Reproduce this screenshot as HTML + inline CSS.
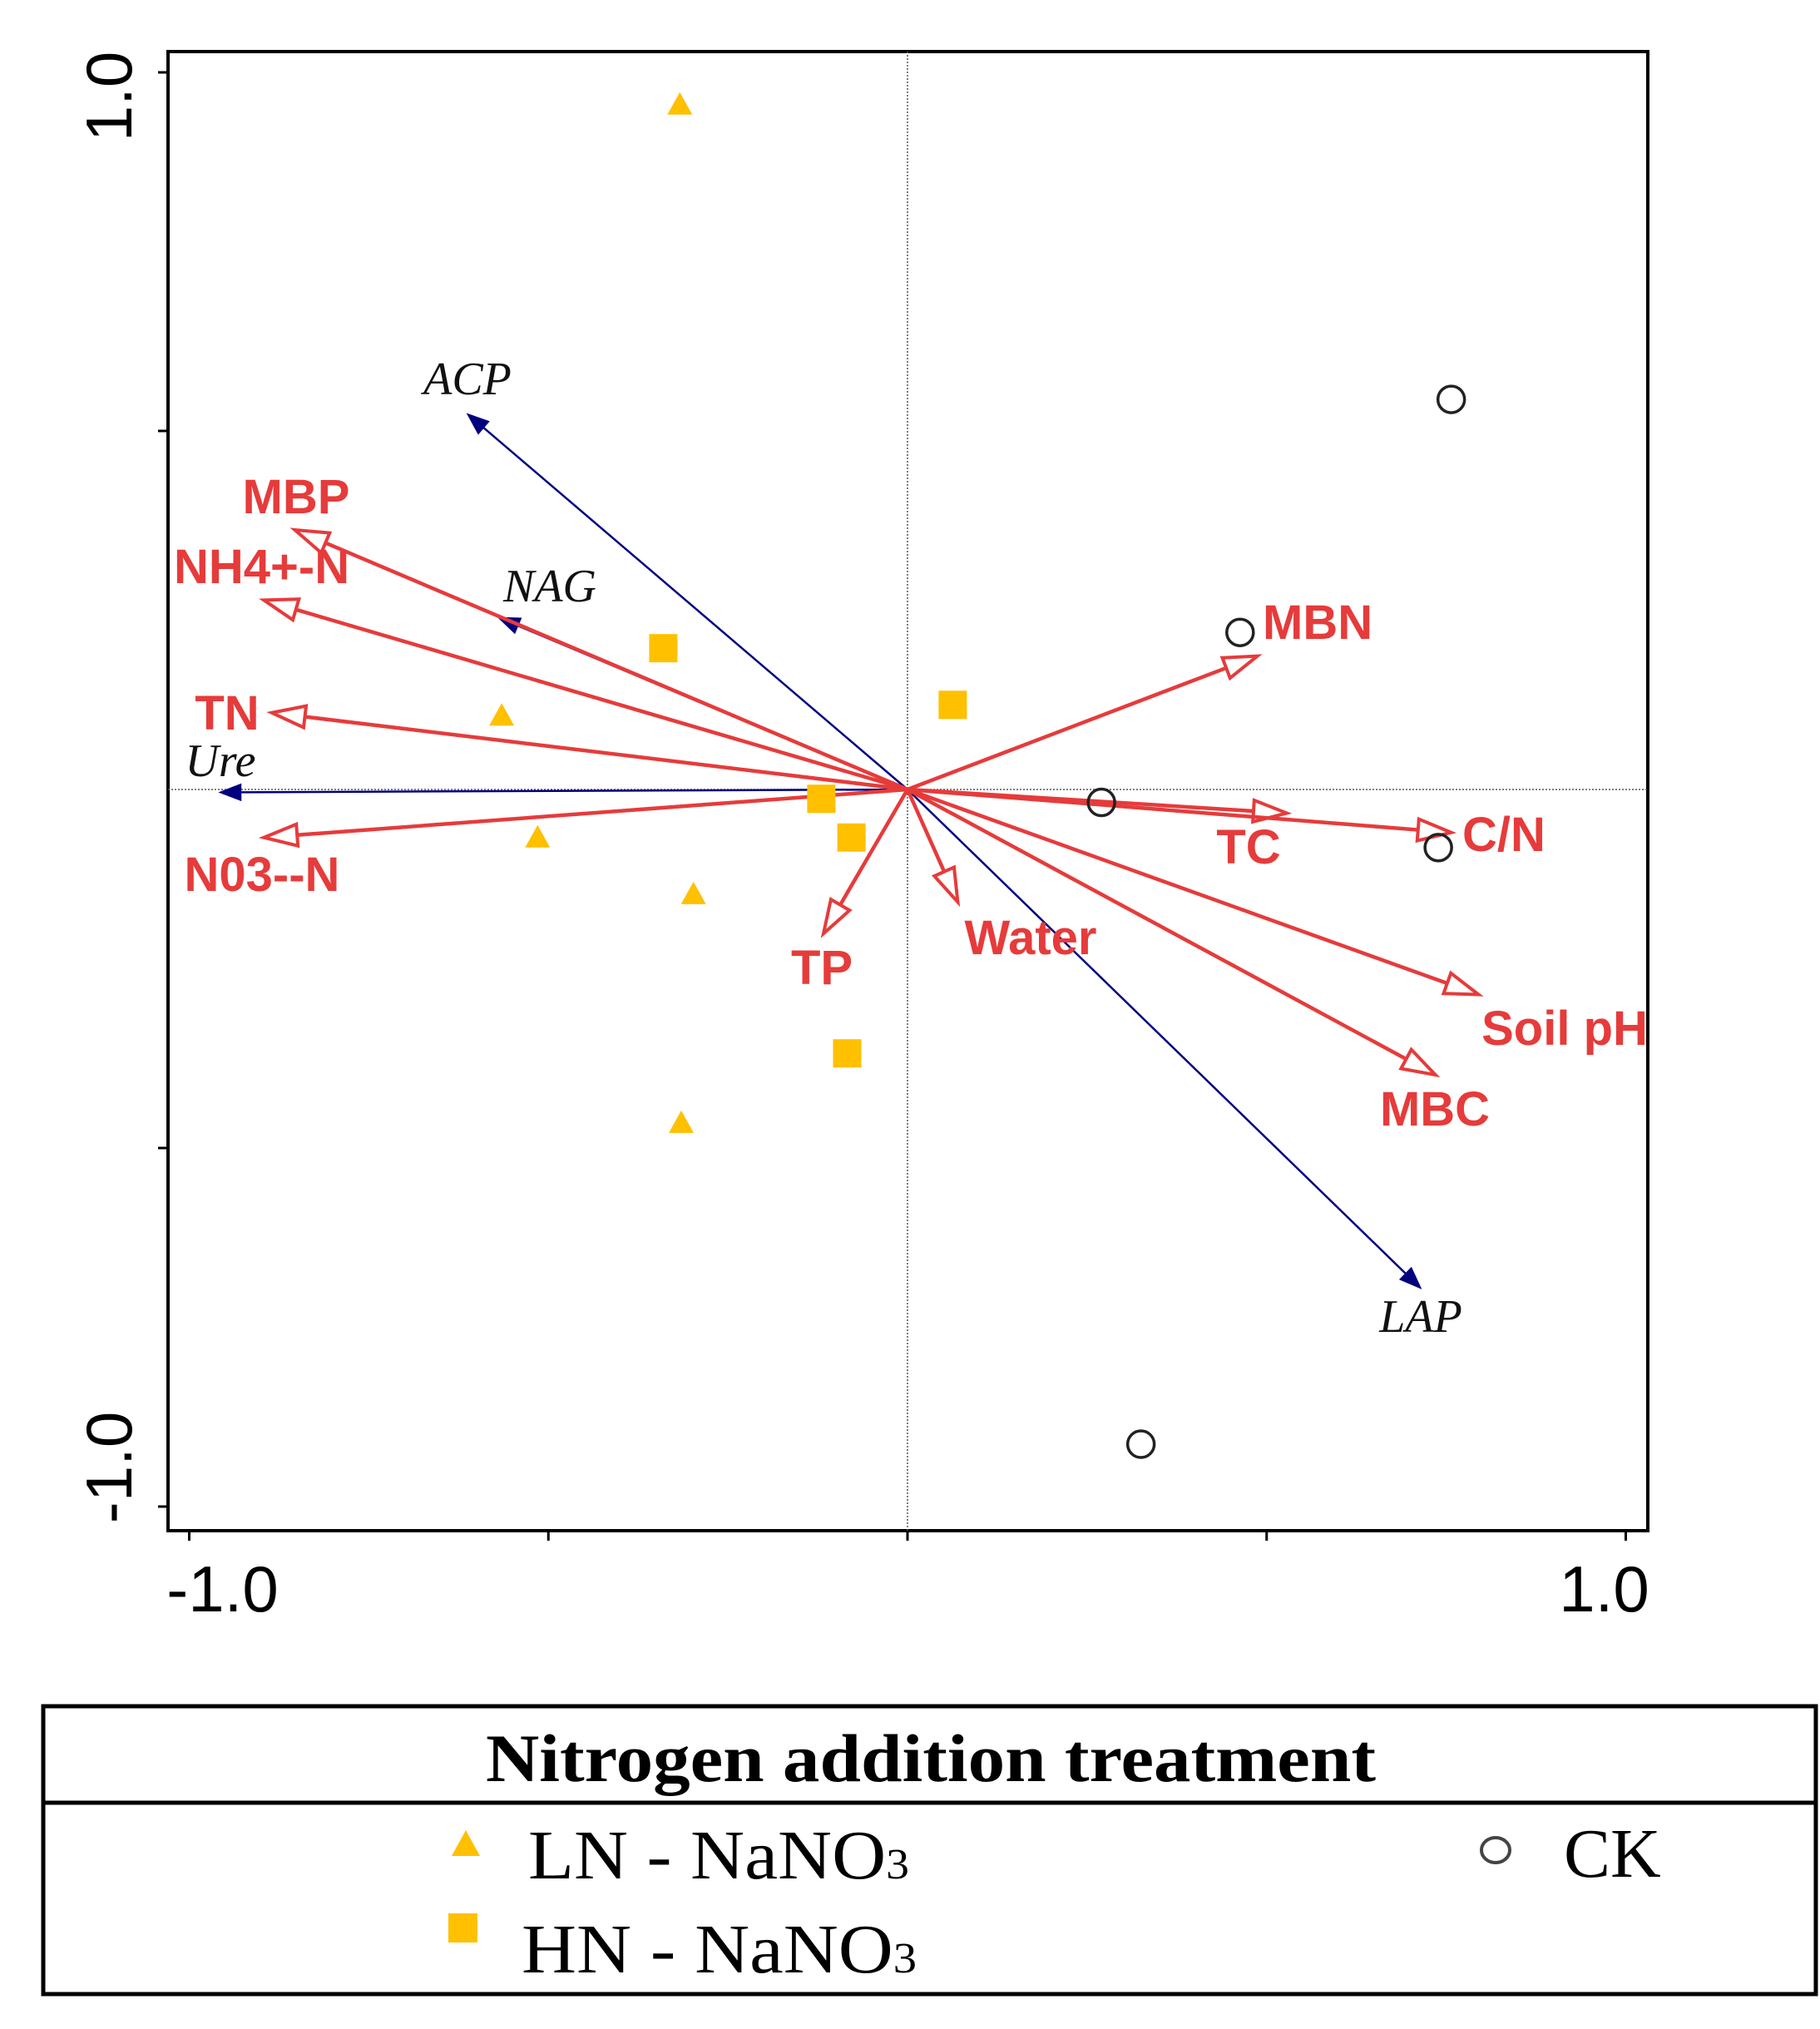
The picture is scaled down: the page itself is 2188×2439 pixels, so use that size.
<!DOCTYPE html>
<html><head><meta charset="utf-8"><title>RDA biplot</title>
<style>html,body{margin:0;padding:0;background:#fff}svg{display:block}</style></head>
<body>
<svg id="chart" width="2188" height="2439" viewBox="0 0 2188 2439" xmlns="http://www.w3.org/2000/svg">
<rect x="0" y="0" width="2188" height="2439" fill="#fff"/>
<g id="plot"></g>
<g id="legend">
 <rect x="52" y="2051" width="2131" height="346" fill="none" stroke="#000" stroke-width="5"/>
 <line x1="52" y1="2167" x2="2183" y2="2167" stroke="#000" stroke-width="5"/>
 <text x="1119" y="2141" text-anchor="middle" font-family="Liberation Serif, serif" font-weight="bold" font-size="82" textLength="1070" lengthAdjust="spacingAndGlyphs">Nitrogen addition treatment</text>
 <polygon points="560,2200 543,2231 577,2231" fill="#FFC000"/>
 <text x="635" y="2258" font-family="Liberation Serif, serif" font-size="84" textLength="458" lengthAdjust="spacingAndGlyphs">LN - NaNO<tspan font-size="52">3</tspan></text>
 <rect x="539" y="2300" width="35" height="35" fill="#FFC000"/>
 <text x="627" y="2371" font-family="Liberation Serif, serif" font-size="84" textLength="475" lengthAdjust="spacingAndGlyphs">HN - NaNO<tspan font-size="52">3</tspan></text>
 <ellipse cx="1798" cy="2224" rx="17" ry="15" fill="none" stroke="#444" stroke-width="4"/>
 <text x="1880" y="2256" font-family="Liberation Serif, serif" font-size="84">CK</text>
</g>
</svg>
<script>
// data
const lnX = [-0.317, -0.565, -0.515, -0.298, -0.315];
const lnY = [0.955, 0.103, -0.067, -0.146, -0.465];
const hnX = [-0.340, 0.063, -0.120, -0.078, -0.084];
const hnY = [0.197, 0.118, -0.013, -0.067, -0.368];
const ckX = [0.757, 0.463, 0.270, 0.739, 0.325];
const ckY = [0.544, 0.219, -0.018, -0.081, -0.913];
const envNames = ["MBP", "NH4+-N", "TN", "N03--N", "TP", "Water", "MBN", "TC", "C/N", "Soil pH", "MBC"];
const envX = [-0.853, -0.896, -0.885, -0.896, -0.117, 0.070, 0.487, 0.528, 0.757, 0.795, 0.735];
const envY = [0.362, 0.264, 0.107, -0.067, -0.201, -0.157, 0.186, -0.033, -0.060, -0.286, -0.398];
const enzNames = ["ACP", "NAG", "Ure", "LAP"];
const enzX = [-0.613, -0.570, -0.958, 0.715];
const enzY = [0.524, 0.240, -0.004, -0.696];
const xTicks = [-1, -0.5, 0, 0.5, 1];
const yTicks = [1, 0.5, -0.5, -1];
const tickLabels = ["-1.0", "1.0"];

const X0 = 1091, KX = 863.5, Y0 = 949, KY = 862;
const sx = v => X0 + v * KX;
const sy = v => Y0 - v * KY;
const NS = "http://www.w3.org/2000/svg";
const plot = document.getElementById("plot");
function mk(tag, attrs, parent) {
  const e = document.createElementNS(NS, tag);
  for (const k in attrs) e.setAttribute(k, attrs[k]);
  (parent || plot).appendChild(e);
  return e;
}
let el = mk("rect", {x: 202, y: 62, width: 1779, height: 1778, fill: "none", stroke: "#000", "stroke-width": 4});


el = mk("line", {x1: sx(0), y1: 62, x2: sx(0), y2: 1840, stroke: "#555", "stroke-width": 1.5, "stroke-dasharray": "2,2"});


el = mk("line", {x1: 202, y1: sy(0), x2: 1981, y2: sy(0), stroke: "#555", "stroke-width": 1.5, "stroke-dasharray": "2,2"});


xTicks.forEach(t => {
  const e = mk("line", {x1: sx(t), y1: 1840, x2: sx(t), y2: 1852, stroke: "#000", "stroke-width": 3});
  
  
});
yTicks.forEach(t => {
  const e = mk("line", {x1: 190, y1: sy(t), x2: 202, y2: sy(t), stroke: "#000", "stroke-width": 3});
  
  
});
el = mk("text", {x: sx(-1) + 40, y: 1937, "text-anchor": "middle", "font-family": "Liberation Sans, sans-serif", "font-size": 78});
el.textContent = tickLabels[0];


el = mk("text", {x: sx(1) - 26, y: 1937, "text-anchor": "middle", "font-family": "Liberation Sans, sans-serif", "font-size": 78});
el.textContent = tickLabels[1];


el = mk("text", {x: 0, y: 0, "text-anchor": "middle", "font-family": "Liberation Sans, sans-serif", "font-size": 78, transform: "translate(158," + (sy(1) + 29) + ") rotate(-90)"});
el.textContent = tickLabels[1];


el = mk("text", {x: 0, y: 0, "text-anchor": "middle", "font-family": "Liberation Sans, sans-serif", "font-size": 78, transform: "translate(158," + (sy(-1) - 47) + ") rotate(-90)"});
el.textContent = tickLabels[0];



function arrow(x, y, color, w, open, len, hw) {
  const x1 = sx(0), y1 = sy(0), x2 = sx(x), y2 = sy(y);
  const dx = x2 - x1, dy = y2 - y1, L = Math.hypot(dx, dy), ux = dx / L, uy = dy / L;
  const bx = x2 - ux * len, by = y2 - uy * len;
  const g = mk("g", {});
  mk("line", {x1: x1, y1: y1, x2: bx, y2: by, stroke: color, "stroke-width": w}, g);
  mk("polygon", {points: x2 + "," + y2 + " " + (bx - uy * hw) + "," + (by + ux * hw) + " " + (bx + uy * hw) + "," + (by - ux * hw),
    fill: open ? "#fff" : color, stroke: color, "stroke-width": open ? 4 : 1, "stroke-linejoin": "miter"}, g);
  return g;
}
const envLab = [[356,617,"middle"],[209,701,"start"],[273,877,"middle"],[315,1071,"middle"],[988,1183,"middle"],[1239,1147,"middle"],[1518,768,"start"],[1501,1038,"middle"],[1808,1023,"middle"],[1881,1256,"middle"],[1725,1353,"middle"]];
const enzLab = [[562,474],[661,723],[265,933],[1708,1601]];
enzNames.forEach((n, i) => {
  const g = arrow(enzX[i], enzY[i], "#00007F", 2.5, false, 26, 10);
  
  
});
envNames.forEach((n, i) => {
  const g = arrow(envX[i], envY[i], "#E63B3B", 4.5, true, 40, 13);
  
  
});
envNames.forEach((n, i) => {
  const t = mk("text", {x: envLab[i][0], y: envLab[i][1], "text-anchor": envLab[i][2], fill: "#E63B3B", "font-family": "Liberation Sans, sans-serif", "font-weight": "bold", "font-size": 58});
  t.textContent = n;
  
  
});
enzNames.forEach((n, i) => {
  const t = mk("text", {x: enzLab[i][0], y: enzLab[i][1], "text-anchor": "middle", fill: "#111", "font-family": "Liberation Serif, serif", "font-style": "italic", "font-size": 56});
  t.textContent = n;
  
  
});
lnX.forEach((v, i) => {
  const cx = sx(v), cy = sy(lnY[i]);
  const p = mk("polygon", {points: cx + "," + (cy - 15) + " " + (cx - 15) + "," + (cy + 12) + " " + (cx + 15) + "," + (cy + 12), fill: "#FFC000"});
  
  
});
hnX.forEach((v, i) => {
  const p = mk("rect", {x: sx(v) - 17, y: sy(hnY[i]) - 17, width: 34, height: 34, fill: "#FFC000"});
  
  
});
ckX.forEach((v, i) => {
  const p = mk("circle", {cx: sx(v), cy: sy(ckY[i]), r: 16, fill: "none", stroke: "#222", "stroke-width": 3.5});
  
  
});
</script>
</body></html>
